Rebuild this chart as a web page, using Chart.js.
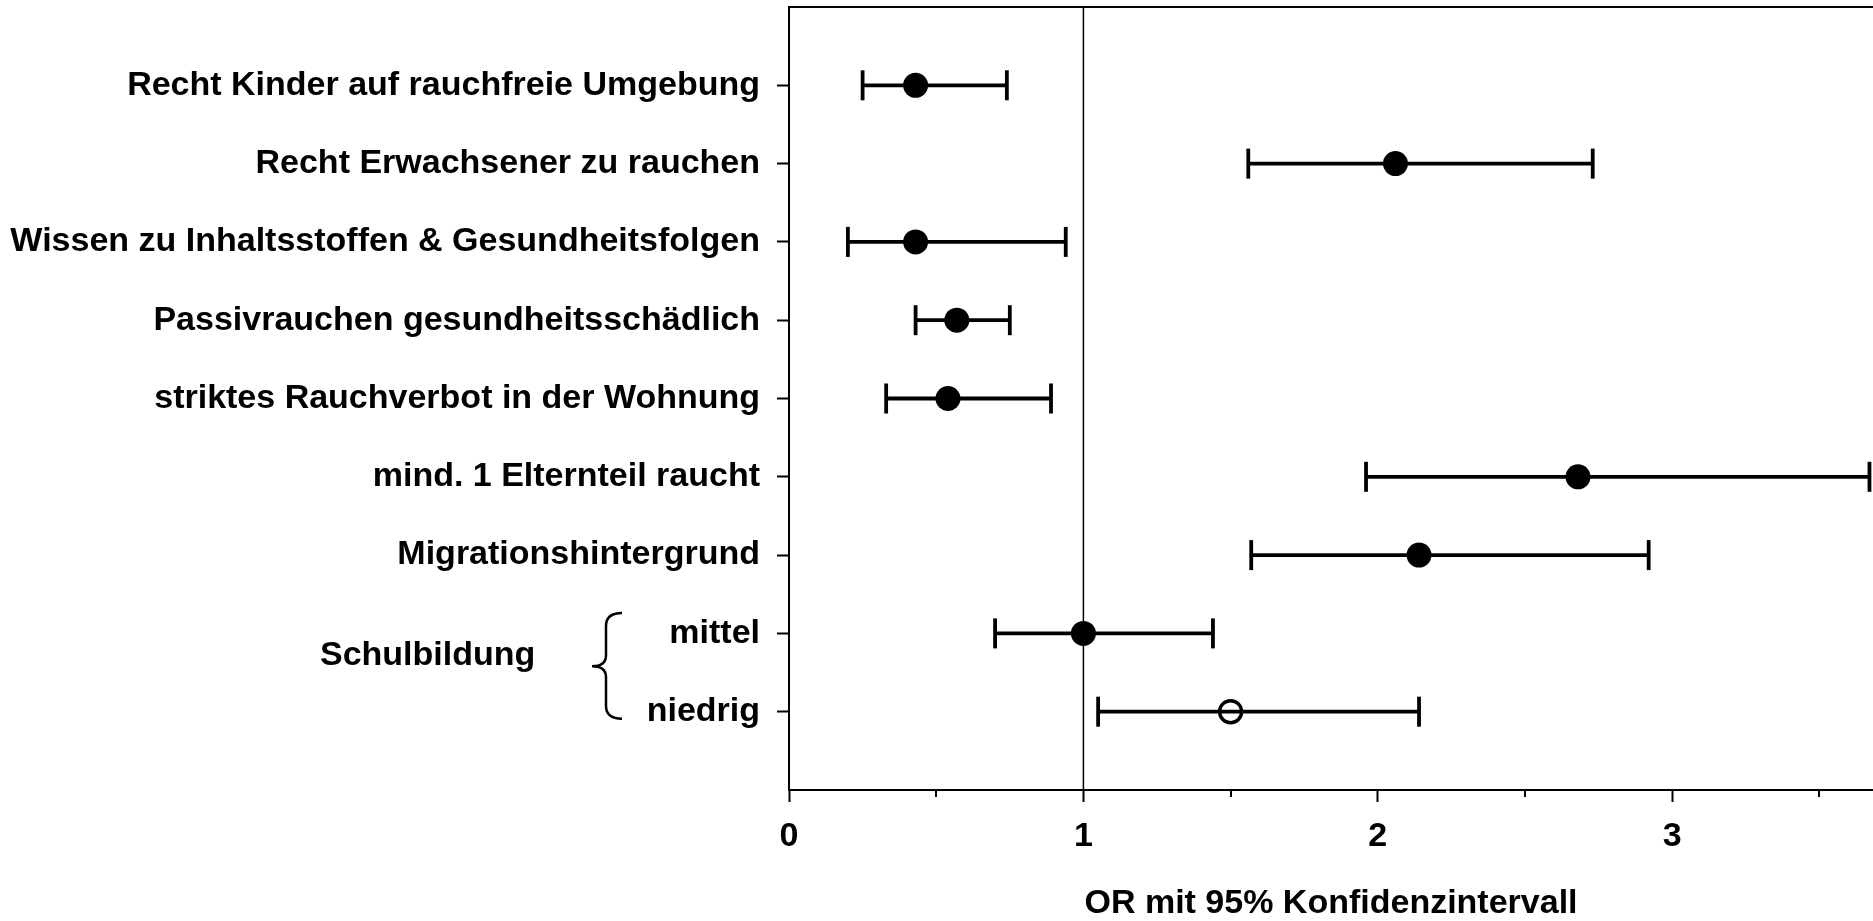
<!DOCTYPE html>
<html>
<head>
<meta charset="utf-8">
<script src="https://cdn.jsdelivr.net/npm/chart.js@4.4.1/dist/chart.umd.min.js"></script>
<style>
    html, body { margin: 0; padding: 0; background: #fff; }
    #wrap { width: 1873px; height: 921px; position: relative; }
</style>
</head>
<body>
<div id="wrap"><canvas id="chart"></canvas></div>
<script>
// rows from top to bottom
const categories = [
    'Recht Kinder auf rauchfreie Umgebung',
    'Recht Erwachsener zu rauchen',
    'Wissen zu Inhaltsstoffen & Gesundheitsfolgen',
    'Passivrauchen gesundheitsschädlich',
    'striktes Rauchverbot in der Wohnung',
    'mind. 1 Elternteil raucht',
    'Migrationshintergrund',
    'mittel',
    'niedrig'
];
const orValues = [0.43, 2.06, 0.43, 0.57, 0.54, 2.68, 2.14, 1.00, 1.50];
const ciLower  = [0.25, 1.56, 0.20, 0.43, 0.33, 1.96, 1.57, 0.70, 1.05];
const ciUpper  = [0.74, 2.73, 0.94, 0.75, 0.89, 3.67, 2.92, 1.44, 2.14];
const openMarker = [false, false, false, false, false, false, false, false, true];

const groupLabel = 'Schulbildung';
const xTickValues = [0, 0.5, 1, 1.5, 2, 2.5, 3, 3.5];
const yTickValues = [0, 1, 2, 3, 4, 5, 6, 7, 8, 9, 10];
const xAxisTitle = 'OR mit 95% Konfidenzintervall';

const FONT = { family: '"Liberation Sans", Arial, sans-serif', size: 34, weight: 'bold' };
const BLACK = '#000';

const rowY = i => i + 1;

// half ticks, brace and group label
const extras = {
    id: 'extras',
    afterDraw(chart) {
        const { ctx, chartArea, scales } = chart;
        const x = scales.x, y = scales.y;
        ctx.save();
        ctx.strokeStyle = BLACK;
        ctx.lineWidth = 2;
        xTickValues.filter(v => v % 1 !== 0).forEach(v => {
            const px = Math.round(x.getPixelForValue(v));
            ctx.beginPath();
            ctx.moveTo(px, chartArea.bottom);
            ctx.lineTo(px, chartArea.bottom + 7);
            ctx.stroke();
        });

        // brace in front of the last two rows
        const top = y.getPixelForValue(7.74);
        const tip = y.getPixelForValue(8.42);
        const bot = y.getPixelForValue(9.09);
        const xs = chartArea.left - 183;
        const xe = chartArea.left - 167;
        const xt = chartArea.left - 197;
        ctx.lineWidth = 2.5;
        ctx.beginPath();
        ctx.moveTo(xe, top);
        ctx.quadraticCurveTo(xs, top, xs, top + 13);
        ctx.lineTo(xs, tip - 11);
        ctx.quadraticCurveTo(xs, tip, xt, tip);
        ctx.quadraticCurveTo(xs, tip, xs, tip + 11);
        ctx.lineTo(xs, bot - 13);
        ctx.quadraticCurveTo(xs, bot, xe, bot);
        ctx.stroke();

        ctx.fillStyle = BLACK;
        ctx.font = 'bold 34px "Liberation Sans", Arial, sans-serif';
        ctx.textAlign = 'left';
        ctx.textBaseline = 'middle';
        ctx.fillText(groupLabel, chartArea.left - 469, y.getPixelForValue(8.29));
        ctx.restore();
    }
};

const ciSets = categories.map((c, i) => ({
    type: 'line',
    label: c,
    data: [{ x: ciLower[i], y: rowY(i) }, { x: ciUpper[i], y: rowY(i) }],
    borderColor: BLACK,
    borderWidth: 3.8,
    pointStyle: 'line',
    pointRotation: 90,
    pointRadius: 15,
    pointBorderWidth: 3.8,
    pointBorderColor: BLACK,
    order: 2
}));

const datasets = [
    {
        type: 'scatter',
        label: 'OR',
        data: orValues.map((v, i) => ({ x: v, y: rowY(i) })),
        pointRadius: openMarker.map(o => o ? 11 : 12.5),
        pointBackgroundColor: openMarker.map(o => o ? 'rgba(0,0,0,0)' : BLACK),
        pointBorderColor: BLACK,
        pointBorderWidth: openMarker.map(o => o ? 3.4 : 0),
        order: 0
    },
    ...ciSets,
    {
        type: 'line',
        label: 'ref',
        data: [{ x: 1, y: 0 }, { x: 1, y: 10 }],
        borderColor: BLACK,
        borderWidth: 1.5,
        pointRadius: 0,
        order: 3
    }
];

new Chart(document.getElementById('chart'), {
    type: 'scatter',
    data: { datasets: datasets },
    options: {
        responsive: true,
        maintainAspectRatio: false,
        animation: false,
        layout: { autoPadding: false, padding: { top: 7, right: 0, bottom: 0, left: 0 } },
        plugins: {
            legend: { display: false },
            tooltip: { enabled: false }
        },
        scales: {
            x: {
                type: 'linear',
                position: 'bottom',
                min: 0,
                max: 3.682,
                afterBuildTicks: s => { s.ticks = xTickValues.map(v => ({ value: v })); },
                afterFit: s => { s.height = 131; s.paddingLeft = 0; s.paddingRight = 0; },
                border: { color: BLACK, width: 2 },
                grid: {
                    drawOnChartArea: false,
                    tickLength: 12,
                    tickWidth: 2,
                    tickColor: c => (c.tick && c.tick.value % 1 === 0) ? BLACK : 'rgba(0,0,0,0)'
                },
                ticks: {
                    autoSkip: false,
                    maxRotation: 0,
                    padding: 14,
                    color: BLACK,
                    font: FONT,
                    callback: v => (v % 1 === 0 ? String(v) : null)
                },
                title: {
                    display: true,
                    text: xAxisTitle,
                    color: BLACK,
                    font: { ...FONT, lineHeight: 1 },
                    padding: { top: 30, bottom: 0 }
                }
            },
            xTop: {
                type: 'linear',
                position: 'top',
                min: 0,
                max: 3.682,
                border: { color: BLACK, width: 2 },
                grid: { display: false, drawTicks: false },
                ticks: { display: false }
            },
            y: {
                type: 'linear',
                position: 'left',
                min: 0,
                max: 10,
                reverse: true,
                afterBuildTicks: s => { s.ticks = yTickValues.map(v => ({ value: v })); },
                afterFit: s => { s.width = 789; s.paddingTop = 0; s.paddingBottom = 0; },
                border: { color: BLACK, width: 2 },
                grid: {
                    drawOnChartArea: false,
                    tickLength: 12,
                    tickWidth: 2,
                    tickColor: BLACK
                },
                ticks: {
                    autoSkip: false,
                    padding: 17,
                    color: BLACK,
                    font: FONT,
                    callback: v => (v >= 1 && v <= categories.length ? categories[v - 1] : null)
                }
            }
        }
    },
    plugins: [extras]
});
</script>
</body>
</html>
